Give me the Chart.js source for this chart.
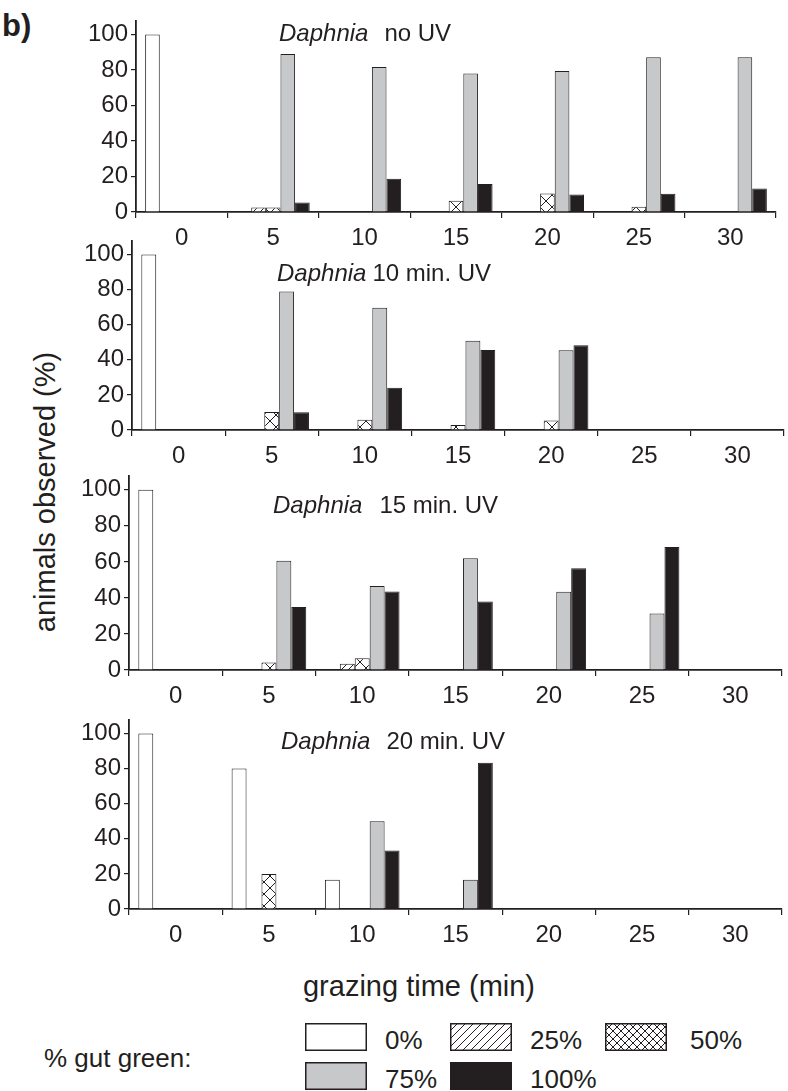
<!DOCTYPE html>
<html><head><meta charset="utf-8">
<script src="https://cdn.jsdelivr.net/npm/chart.js@4.4.1/dist/chart.umd.min.js"></script>
<style>
html,body{margin:0;padding:0;background:#fff}
body{width:788px;height:1091px;position:relative;overflow:hidden;font-family:"Liberation Sans",Arial,sans-serif;color:#231f20}
canvas.panel{position:absolute;left:0}
.t{position:absolute;white-space:nowrap;line-height:1}
.sw{position:absolute}
</style></head><body>
<div class="t" style="left:2px;top:10px;font-size:31px;font-weight:bold">b)</div>
<div class="t" id="ytitle" style="font-size:29px;left:45px;top:492px;transform:translate(-50%,-50%) rotate(-90deg)">animals observed (%)</div>
<div class="t" style="font-size:29px;left:419px;top:986px;transform:translate(-50%,-50%)">grazing time (min)</div>
<div class="t" style="font-size:26px;left:44px;top:1045px">% gut green:</div>
<div id="legend"></div>
<script>
// ---- data ----
const categories = ["0","5","10","15","20","25","30"];
const seriesNames = ["0%","25%","50%","75%","100%"];
const yTickLabels = [0,20,40,60,80,100];

// Daphnia no UV
const noUV_0   = [100, null, null, null, null, null, null];
const noUV_25  = [null, 2.5, null, null, null, null, null];
const noUV_50  = [null, 2.5, null, 6.4, 10.4, 2.9, null];
const noUV_75  = [null, 89, 81.7, 78, 79.5, 87.2, 87.2];
const noUV_100 = [null, 5.3, 18.7, 15.8, 9.9, 10.3, 13.2];

// Daphnia 10 min. UV
const uv10_0   = [100, null, null, null, null, null, null];
const uv10_25  = [null, null, null, null, null, null, null];
const uv10_50  = [null, 10.3, 5.9, 2.8, 5.4, null, null];
const uv10_75  = [null, 78.9, 69.6, 50.9, 45.4, null, null];
const uv10_100 = [null, 10.1, 24, 45.5, 48.3, null, null];

// Daphnia 15 min. UV
const uv15_0   = [100, null, null, null, null, null, null];
const uv15_25  = [null, null, 3.4, null, null, null, null];
const uv15_50  = [null, 4.2, 6.5, null, null, null, null];
const uv15_75  = [null, 60.6, 46.6, 62, 43.4, 31.3, null];
const uv15_100 = [null, 34.9, 43.5, 38, 56.5, 68.2, null];

// Daphnia 20 min. UV
const uv20_0   = [100, 80, 16.7, null, null, null, null];
const uv20_25  = [null, null, null, null, null, null, null];
const uv20_50  = [null, 20, null, null, null, null, null];
const uv20_75  = [null, null, 50, 16.7, null, null, null];
const uv20_100 = [null, null, 33.3, 83.3, null, null, null];

const panelTitles = [
  {italic:"Daphnia", rest:"no UV"},
  {italic:"Daphnia", rest:"10 min. UV"},
  {italic:"Daphnia", rest:"15 min. UV"},
  {italic:"Daphnia", rest:"20 min. UV"}
];
const panelSeries = [
  [noUV_0, noUV_25, noUV_50, noUV_75, noUV_100],
  [uv10_0, uv10_25, uv10_50, uv10_75, uv10_100],
  [uv15_0, uv15_25, uv15_50, uv15_75, uv15_100],
  [uv20_0, uv20_25, uv20_50, uv20_75, uv20_100]
];

// ---- layout / style ----
const INK = '#231f20';
const FONT = '"Liberation Sans", Arial, sans-serif';
const geoms = [
  {left:136, right:776, top:14.5, bottom:211, tx:279, ty:40, gap:16},
  {left:132, right:784, top:235, bottom:430, tx:277, ty:281, gap:6},
  {left:129, right:782, top:470, bottom:670, tx:273, ty:513, gap:17},
  {left:129, right:782, top:714, bottom:909, tx:281, ty:749, gap:16}
];

function makePattern(kind, s, lw){
  const c = document.createElement('canvas'); c.width = s; c.height = s;
  const g = c.getContext('2d');
  g.fillStyle = '#fff'; g.fillRect(0,0,s,s);
  g.strokeStyle = INK; g.lineWidth = lw;
  g.beginPath();
  g.moveTo(-1, s+1); g.lineTo(s+1, -1);
  g.moveTo(-s/2-1, s/2+1); g.lineTo(s/2+1, -s/2-1);
  g.moveTo(s/2-1, 3*s/2+1); g.lineTo(3*s/2+1, s/2-1);
  if (kind === 'cross'){
    g.moveTo(-1, -1); g.lineTo(s+1, s+1);
    g.moveTo(-s/2-1, s/2-1); g.lineTo(s/2+1, 3*s/2+1);
    g.moveTo(s/2-1, -s/2-1); g.lineTo(3*s/2+1, s/2+1);
  }
  g.stroke();
  return {canvas:c, pattern:g.createPattern(c,'repeat')};
}
const hatch25 = makePattern('diag', 7, 1).pattern;
const hatch50 = makePattern('cross', 12, 1).pattern;
const fills = ['#ffffff', hatch25, hatch50, '#c7c8ca', INK];

Chart.defaults.font.family = FONT;
Chart.defaults.color = INK;

const titlePlugin = {
  id:'panelTitle',
  afterDraw(chart){
    const o = chart.options.plugins.panelTitle;
    const ctx = chart.ctx;
    ctx.save();
    ctx.fillStyle = INK;
    ctx.textBaseline = 'alphabetic';
    ctx.font = 'italic 24px ' + FONT;
    ctx.fillText(o.italic, o.x, o.y);
    const w = ctx.measureText(o.italic).width;
    ctx.font = '24px ' + FONT;
    ctx.fillText(o.rest, o.x + w + o.gap, o.y);
    ctx.restore();
  }
};

const PAD_TOP = 12, BELOW = 48;
geoms.forEach((g, i) => {
  const cv = document.createElement('canvas');
  cv.className = 'panel';
  const h = Math.round(g.bottom - g.top) + PAD_TOP + BELOW;
  const canvasTop = g.top - PAD_TOP;
  cv.width = 788; cv.height = h;
  cv.style.width = '788px'; cv.style.height = h + 'px';
  cv.style.top = canvasTop + 'px';
  document.body.appendChild(cv);
  new Chart(cv, {
    type:'bar',
    data:{
      labels: categories,
      datasets: panelSeries[i].map((arr, k) => ({
        label: seriesNames[k],
        data: arr,
        backgroundColor: fills[k],
        borderColor: INK,
        borderWidth: 1,
        categoryPercentage: 0.8,
        barPercentage: 1.0
      }))
    },
    options:{
      responsive:false, animation:false, devicePixelRatio:1,
      layout:{padding:{left:0, right:788 - g.right, top:PAD_TOP, bottom:0}},
      plugins:{
        legend:{display:false}, tooltip:{enabled:false},
        panelTitle:{italic:panelTitles[i].italic, rest:panelTitles[i].rest, x:g.tx, y:g.ty - canvasTop, gap:g.gap}
      },
      scales:{
        x:{
          offset:true,
          grid:{display:true, offset:true, drawOnChartArea:false, drawTicks:true, tickLength:6, color:INK, lineWidth:1.2},
          border:{display:true, color:INK, width:1.8},
          ticks:{font:{size:24}, color:INK, padding:6, maxRotation:0, autoSkip:false},
          afterFit(s){ s.height = BELOW; }
        },
        y:{
          min:0, max:108,
          grid:{display:true, drawOnChartArea:false, drawTicks:true, tickLength:5, color:INK, lineWidth:1.2},
          border:{display:true, color:INK, width:1.8},
          ticks:{stepSize:10, includeBounds:false, font:{size:24}, color:INK, padding:3,
                 callback:(v) => yTickLabels.includes(v) ? String(v) : ''},
          afterFit(s){ s.width = g.left; }
        }
      }
    },
    plugins:[titlePlugin]
  });
});

// ---- legend swatches (HTML) ----
const legendItems = [
  {x:305, y:1023, tx:385, fill:'white'},
  {x:450, y:1023, tx:530, fill:'diag'},
  {x:605, y:1023, tx:690, fill:'cross'},
  {x:305, y:1062, tx:385, fill:'gray'},
  {x:450, y:1062, tx:530, fill:'black'}
];
const lg = document.getElementById('legend');
legendItems.forEach((it, k) => {
  const c = document.createElement('canvas');
  c.width = 62; c.height = 28; c.className = 'sw';
  c.style.left = it.x + 'px'; c.style.top = it.y + 'px';
  const g = c.getContext('2d');
  let f;
  if (it.fill === 'white') f = '#fff';
  else if (it.fill === 'gray') f = '#c7c8ca';
  else if (it.fill === 'black') f = INK;
  else f = makePattern(it.fill, 8, 1).pattern;
  g.fillStyle = f; g.fillRect(0,0,62,28);
  g.strokeStyle = INK; g.lineWidth = 1.5; g.strokeRect(0.75,0.75,60.5,26.5);
  lg.appendChild(c);
  const t = document.createElement('div');
  t.className = 't'; t.textContent = seriesNames[k];
  t.style.fontSize = '26px'; t.style.left = it.tx + 'px'; t.style.top = (it.y + 4) + 'px';
  lg.appendChild(t);
});
</script>
</body></html>
